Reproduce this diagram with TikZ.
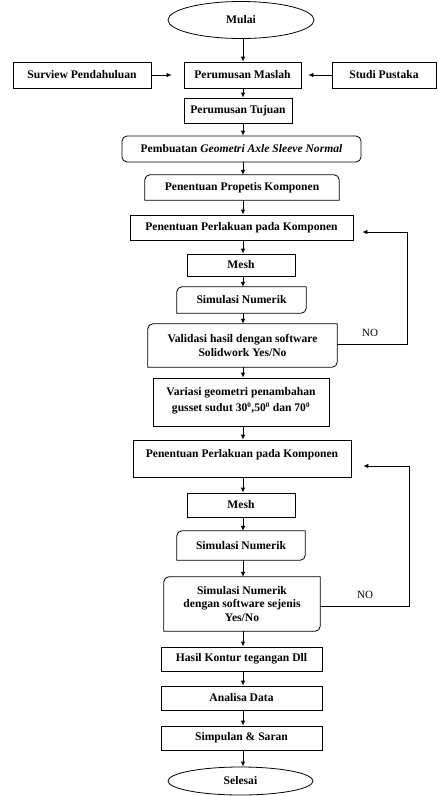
\documentclass[tikz,border=0pt]{standalone}
\usepackage{fontspec}
\setmainfont{Liberation Serif}
\usetikzlibrary{shapes.geometric,arrows.meta,calc}
\begin{document}
\begin{tikzpicture}[x=1pt,y=1pt,
  every node/.style={font=\fontsize{11.6}{13.8}\selectfont\bfseries, inner sep=0pt, align=center},
  lw/.style={line width=0.8pt},
  box/.style={lw, draw, rectangle},
  plain/.style={rectangle},
  oval/.style={lw, draw, ellipse},
  arr/.style={lw, -{Latex[length=5pt,width=4.5pt]}},
  nolab/.style={font=\fontsize{11}{13}\selectfont}
]
\useasboundingbox (0,0) rectangle (438,-796);
\coordinate (axis) at (243,0);

\node[oval, minimum width=146, minimum height=37] (mulai) at (241,-20) {Mulai};
\node[box, minimum width=138, minimum height=26] (surv) at (82,-75) {Surview Pendahuluan};
\node[box, minimum width=117, minimum height=26] (maslah) at (242.5,-75) {Perumusan Maslah};
\node[box, minimum width=104, minimum height=26] (studi) at (384,-75) {Studi Pustaka};
\node[box, minimum width=108, minimum height=25] (tujuan) at (238,-110.5) {Perumusan Tujuan};
\node[box, rounded corners=5pt, minimum width=239, minimum height=26] (pemb) at (241.5,-149) {Pembuatan \textit{Geometri Axle Sleeve Normal}};
\node[plain, minimum width=194, minimum height=25] (prop) at (242,-187.5) {Penentuan Propetis Komponen};
\node[box, minimum width=223, minimum height=25] (perl1) at (241.5,-227.5) {Penentuan Perlakuan pada Komponen};
\node[box, minimum width=108, minimum height=22] (mesh1) at (241,-265) {Mesh};
\node[plain, minimum width=129, minimum height=26] (sim1) at (241.5,-300) {Simulasi Numerik};
\node[plain, minimum width=189, minimum height=43] (valid) at (242.5,-345.5) {Validasi hasil dengan software\\Solidwork Yes/No};
\node[box, minimum width=176, minimum height=48, text depth=5pt] (var) at (241,-402) {Variasi geometri penambahan\\[2.5pt]gusset sudut 30\textsuperscript{\scriptsize 0},50\textsuperscript{\scriptsize 0} dan 70\textsuperscript{\scriptsize 0}};
\node[box, minimum width=218, minimum height=37, text depth=10pt] (perl2) at (242,-458.5) {Penentuan Perlakuan pada Komponen};
\node[box, minimum width=108, minimum height=24] (mesh2) at (241,-505) {Mesh};
\node[plain, minimum width=128, minimum height=29] (sim2) at (241,-545.5) {Simulasi Numerik};
\node[plain, minimum width=156, minimum height=54] (sims) at (242,-604) {Simulasi Numerik\\dengan software sejenis\\Yes/No};
\node[box, minimum width=161, minimum height=24] (hasil) at (241.5,-659) {Hasil Kontur tegangan Dll};
\node[box, minimum width=161, minimum height=24] (analisa) at (241.5,-698) {Analisa Data};
\node[box, minimum width=161, minimum height=24] (simpulan) at (241.5,-738) {Simpulan \& Saran};
\node[oval, minimum width=145, minimum height=28] (selesai) at (240.5,-781) {Selesai};

% top-rounded box
\draw[lw] (prop.south west) -- ([yshift=-5pt]prop.north west) arc[start angle=180,end angle=90,radius=5pt]
  -- ([xshift=-5pt]prop.north east) arc[start angle=90,end angle=0,radius=5pt] -- (prop.south east) -- cycle;
% diagonal-rounded boxes
\foreach \n in {sim1,valid,sim2,sims}{
  \draw[lw] ([yshift=-5pt]\n.north west) arc[start angle=180,end angle=90,radius=5pt]
    -- (\n.north east) -- ([yshift=5pt]\n.south east) arc[start angle=0,end angle=-90,radius=5pt]
    -- (\n.south west) -- cycle;
}

\foreach \a/\b in {mulai/maslah,maslah/tujuan,tujuan/pemb,pemb/prop,prop/perl1,perl1/mesh1,mesh1/sim1,sim1/valid,valid/var,var/perl2,perl2/mesh2,mesh2/sim2,sim2/sims,sims/hasil,hasil/analisa,analisa/simpulan,simpulan/selesai}{
  \draw[arr] (\a.south -| axis) -- (\b.north -| axis);
}

\draw[arr, shorten >=12pt] (surv) -- (maslah);
\draw[arr, shorten >=7pt] (studi) -- (maslah);

\coordinate (fb1) at (407,-232);
\coordinate (fb2) at (409,-466);
\draw[arr, shorten >=9pt] ([yshift=1.5pt]valid.east) -| (fb1) -- (fb1 -| perl1.east);
\draw[arr, shorten >=12pt] ([yshift=-2pt]sims.east) -| (fb2) -- (fb2 -| perl2.east);

\node[nolab] (no1) at (370,-333) {NO};
\node[nolab] (no2) at (365,-595) {NO};
\end{tikzpicture}
\end{document}
